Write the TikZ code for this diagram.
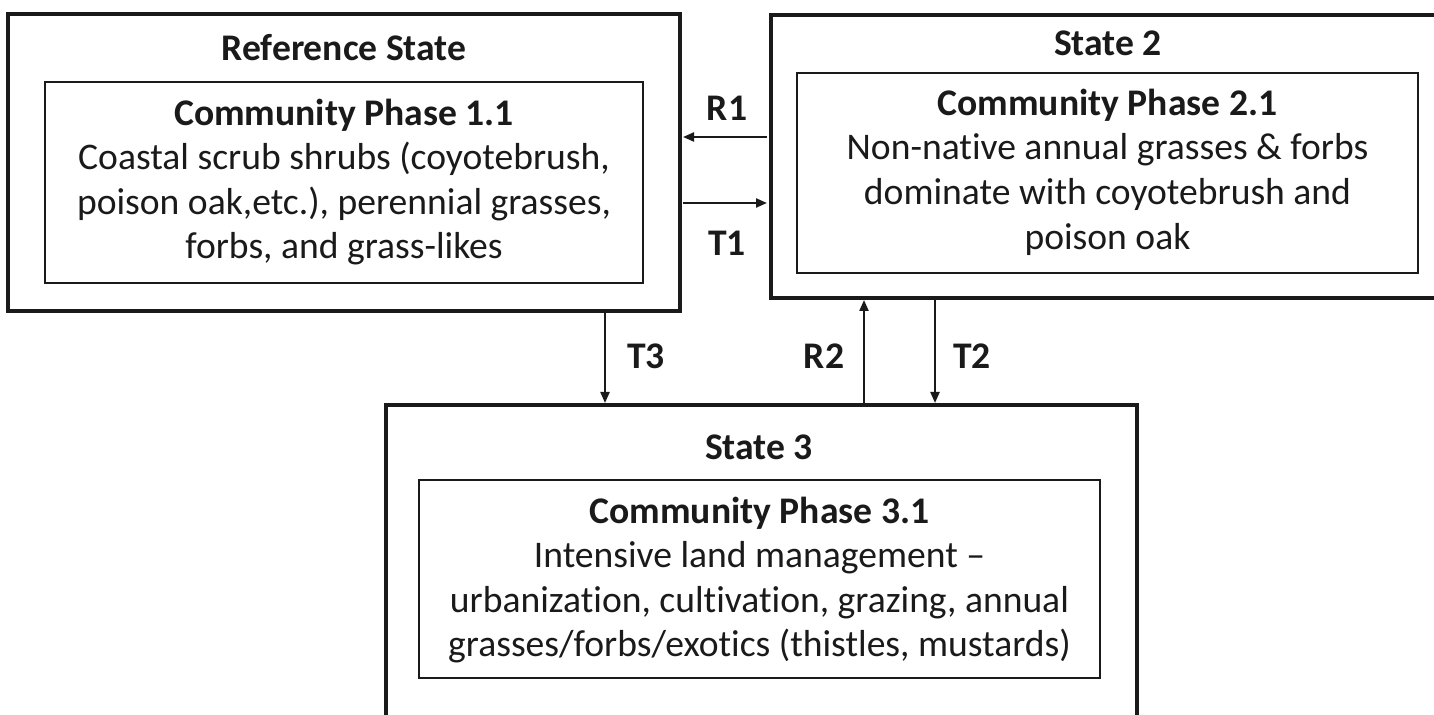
\documentclass[tikz,border=0pt]{standalone}
\usepackage{fontspec}
\setmainfont{Carlito}[Ligatures=NoCommon]
\usetikzlibrary{arrows.meta}
\definecolor{ink}{HTML}{1A1A1A}
\begin{document}
\begin{tikzpicture}[x=0.5pt,y=-0.5pt,
  outerbox/.style={draw=ink, line width=2pt, inner sep=0pt, outer sep=0pt},
  innerbox/.style={draw=ink, line width=1.2pt, inner sep=0pt, outer sep=0pt},
  title/.style={text=ink, font=\fontsize{18.8}{22.3}\selectfont\bfseries, inner sep=0pt},
  body/.style={text=ink, font=\fontsize{18.8}{22.3}\selectfont, align=center, inner sep=0pt},
  lbl/.style={text=ink, font=\fontsize{18.8}{22.3}\selectfont\bfseries, inner sep=0pt},
  arr/.style={draw=ink, line width=1.1pt, -{Triangle[length=5.5pt,width=4.5pt]}}
]
\useasboundingbox[fill=white] (0,0) rectangle (1434,715);
\clip (0,0) rectangle (1434,715);

% Reference state
\node[outerbox, minimum width=336pt, minimum height=148.5pt] (ref) at (344,162.5) {};
\node[innerbox, minimum width=299pt, minimum height=100.5pt] (refin) at (344,182.5) {};
\node[title] (reft) at (344,48) {Reference State};
\node[body] (refb) at (344,182) {\textbf{Community Phase 1.1}\\Coastal scrub shrubs (coyotebrush,\\poison oak,etc.), perennial grasses,\\forbs, and grass-likes};

% State 2
\node[outerbox, minimum width=344.5pt, minimum height=141.5pt] (s2) at (1115.5,156.5) {};
\node[innerbox, minimum width=310.5pt, minimum height=100pt] (s2in) at (1107.5,173) {};
\node[title] (s2t) at (1108,43) {State 2};
\node[body] (s2b) at (1107.5,172) {\textbf{Community Phase 2.1}\\Non-native annual grasses \& forbs\\dominate with coyotebrush and\\poison oak};

% State 3
\node[outerbox, minimum width=375.5pt, minimum height=177.5pt] (s3) at (761.5,582.5) {};
\node[innerbox, minimum width=340.5pt, minimum height=99pt] (s3in) at (759.5,579) {};
\node[title] (s3t) at (759,447) {State 3};
\node[body] (s3b) at (759.5,580) {\textbf{Community Phase 3.1}\\Intensive land management --\\urbanization, cultivation, grazing, annual\\grasses/forbs/exotics (thistles, mustards)};

% arrow levels
\coordinate (yR1) at (0,137);
\coordinate (yT1) at (0,203);
\coordinate (xT3) at (605,0);
\coordinate (xR2) at (864,0);
\coordinate (xT2) at (935,0);

\draw[arr] ([xshift=-2pt]s2.west |- yR1) -- ([xshift=1.5pt]ref.east |- yR1);
\draw[arr] ([xshift=1.5pt]ref.east |- yT1) -- ([xshift=-2pt]s2.west |- yT1);
\draw[arr] ([yshift=-1pt]xT3 |- ref.south) -- ([yshift=1pt]xT3 |- s3.north);
\draw[arr] (xR2 |- s3.north) -- ([yshift=-1pt]xR2 |- s2.south);
\draw[arr] ([yshift=-1pt]xT2 |- s2.south) -- ([yshift=1pt]xT2 |- s3.north);

\node[lbl] (lR1) at (727,108) {R1};
\node[lbl] (lT1) at (727,243) {T1};
\node[lbl] (lT3) at (646,356) {T3};
\node[lbl] (lR2) at (824,356) {R2};
\node[lbl] (lT2) at (972,356) {T2};
\end{tikzpicture}
\end{document}
